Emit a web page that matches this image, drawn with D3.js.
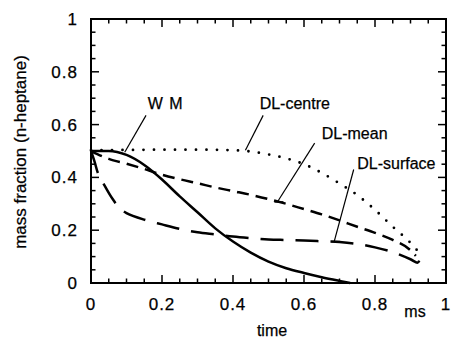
<!DOCTYPE html>
<html><head><meta charset="utf-8">
<script src="https://cdn.jsdelivr.net/npm/d3@7"></script>
<style>body{margin:0;background:#fff}svg{display:block}text{font-family:"Liberation Sans",Arial,Helvetica,sans-serif;fill:#000;stroke:#000;stroke-width:0.25px}</style>
</head><body><svg id="c" width="451" height="339"></svg>
<script>
const xTicks=[0,0.2,0.4,0.6,0.8,1];
const yTicks=[0,0.2,0.4,0.6,0.8,1];
const xTickLabels=["0","0.2","0.4","0.6","0.8","1"];
const yTickLabels=["0","0.2","0.4","0.6","0.8","1"];
const wmT=[0,0.05,0.1,0.15,0.2,0.25,0.3,0.35,0.4,0.45,0.5,0.55,0.6,0.65,0.7,0.73];
const wmY=[0.5,0.5,0.485,0.447,0.392,0.328,0.268,0.207,0.157,0.115,0.081,0.056,0.038,0.022,0.008,0];
const centreT=[0,0.1,0.2,0.3,0.4,0.45,0.5,0.55,0.6,0.65,0.7,0.75,0.8,0.85,0.9,0.92];
const centreY=[0.503,0.504,0.505,0.505,0.503,0.498,0.487,0.472,0.45,0.417,0.377,0.333,0.277,0.213,0.152,0.122];
const meanT=[0,0.05,0.1,0.15,0.2,0.25,0.3,0.35,0.4,0.45,0.5,0.55,0.6,0.65,0.7,0.75,0.8,0.85,0.9,0.915];
const meanY=[0.5,0.47,0.452,0.432,0.41,0.393,0.378,0.362,0.348,0.334,0.318,0.3,0.28,0.26,0.237,0.213,0.19,0.163,0.124,0.103];
const surfT=[0,0.01,0.02,0.04,0.06,0.08,0.1,0.15,0.2,0.25,0.3,0.35,0.4,0.45,0.5,0.55,0.6,0.65,0.7,0.75,0.8,0.85,0.9,0.92,0.925,0.915];
const surfY=[0.5,0.46,0.415,0.365,0.32,0.285,0.265,0.24,0.222,0.205,0.192,0.184,0.176,0.17,0.165,0.163,0.161,0.158,0.155,0.148,0.135,0.117,0.09,0.077,0.088,0.095];
const labels=[
 {text:"W M",x:0.16,y:0.66,lx1:0.155,ly1:0.635,lx2:0.095,ly2:0.495,tick:false},
 {text:"DL-centre",x:0.475,y:0.66,lx1:0.485,ly1:0.635,lx2:0.435,ly2:0.503,tick:false},
 {text:"DL-mean",x:0.65,y:0.545,lx1:0.63,ly1:0.53,lx2:0.525,ly2:0.307,tick:true},
 {text:"DL-surface",x:0.75,y:0.43,lx1:0.74,ly1:0.43,lx2:0.685,ly2:0.157,tick:true}
];
const svg=d3.select("#c");
const m={l:91,r:446,t:19,b:283};
const x=d3.scaleLinear().domain([0,1]).range([m.l,m.r]);
const y=d3.scaleLinear().domain([0,1]).range([m.b,m.t]);
const minor=d3.range(0,1.0001,0.05).filter(v=>Math.abs(v*5-Math.round(v*5))>1e-6);
svg.append("rect").attr("x",m.l).attr("y",m.t).attr("width",m.r-m.l).attr("height",m.b-m.t).attr("fill","none").attr("stroke","#000").attr("stroke-width",2);
const tk=svg.append("g").attr("stroke","#000").attr("stroke-width",1.5);
function ticks(vals,len){
 vals.forEach(v=>{
  tk.append("line").attr("x1",x(v)).attr("x2",x(v)).attr("y1",m.b).attr("y2",m.b-len);
  tk.append("line").attr("x1",x(v)).attr("x2",x(v)).attr("y1",m.t).attr("y2",m.t+len);
  tk.append("line").attr("y1",y(v)).attr("y2",y(v)).attr("x1",m.l).attr("x2",m.l+len);
  tk.append("line").attr("y1",y(v)).attr("y2",y(v)).attr("x1",m.r).attr("x2",m.r-len);
 });
}
ticks(xTicks,8);ticks(minor,4.5);
const fs=17;
xTicks.forEach((v,i)=>svg.append("text").attr("x",x(v)).attr("y",310).attr("text-anchor","middle").attr("font-size",fs).attr("letter-spacing",1).text(xTickLabels[i]));
yTicks.forEach((v,i)=>svg.append("text").attr("x",78).attr("y",y(v)+6).attr("text-anchor","end").attr("font-size",fs).attr("letter-spacing",1).text(yTickLabels[i]));
svg.append("text").attr("x",415).attr("y",317).attr("text-anchor","middle").attr("font-size",16).text("ms");
svg.append("text").attr("x",272).attr("y",336).attr("text-anchor","middle").attr("font-size",16).text("time");
svg.append("text").attr("transform","translate(26,152) rotate(-90)").attr("text-anchor","middle").attr("font-size",17).text("mass fraction (n-heptane)");
const line=d3.line().x(d=>x(d[0])).y(d=>y(d[1])).curve(d3.curveMonotoneX);
const line2=d3.line().x(d=>x(d[0])).y(d=>y(d[1])).curve(d3.curveCatmullRom);
const g=svg.append("g").attr("fill","none").attr("stroke","#000");
g.append("path").attr("d",line(wmT.map((t,i)=>[t,wmY[i]]))).attr("stroke-width",2.5);
g.append("path").attr("d",line(centreT.map((t,i)=>[t,centreY[i]]))).attr("stroke-width",2.8).attr("stroke-linecap","round").attr("stroke-dasharray","0,10.5");
g.append("path").attr("d",line(meanT.map((t,i)=>[t,meanY[i]]))).attr("stroke-width",2.5).attr("stroke-dasharray","12,7");
g.append("path").attr("d",line2(surfT.map((t,i)=>[t,surfY[i]]))).attr("stroke-width",2.5).attr("stroke-dasharray","23,12");
labels.forEach(l=>{
 svg.append("text").attr("x",x(l.x)).attr("y",y(l.y)).attr("font-size",16).attr("letter-spacing",l.text==="W M"?1:0).text(l.text);
 g.append("line").attr("x1",x(l.lx1)).attr("y1",y(l.ly1)).attr("x2",x(l.lx2)).attr("y2",y(l.ly2)).attr("stroke-width",1.2);
 if(l.tick) g.append("line").attr("x1",x(l.lx2)-3).attr("x2",x(l.lx2)+6).attr("y1",y(l.ly2)).attr("y2",y(l.ly2)).attr("stroke-width",1.5);
});
</script></body></html>
